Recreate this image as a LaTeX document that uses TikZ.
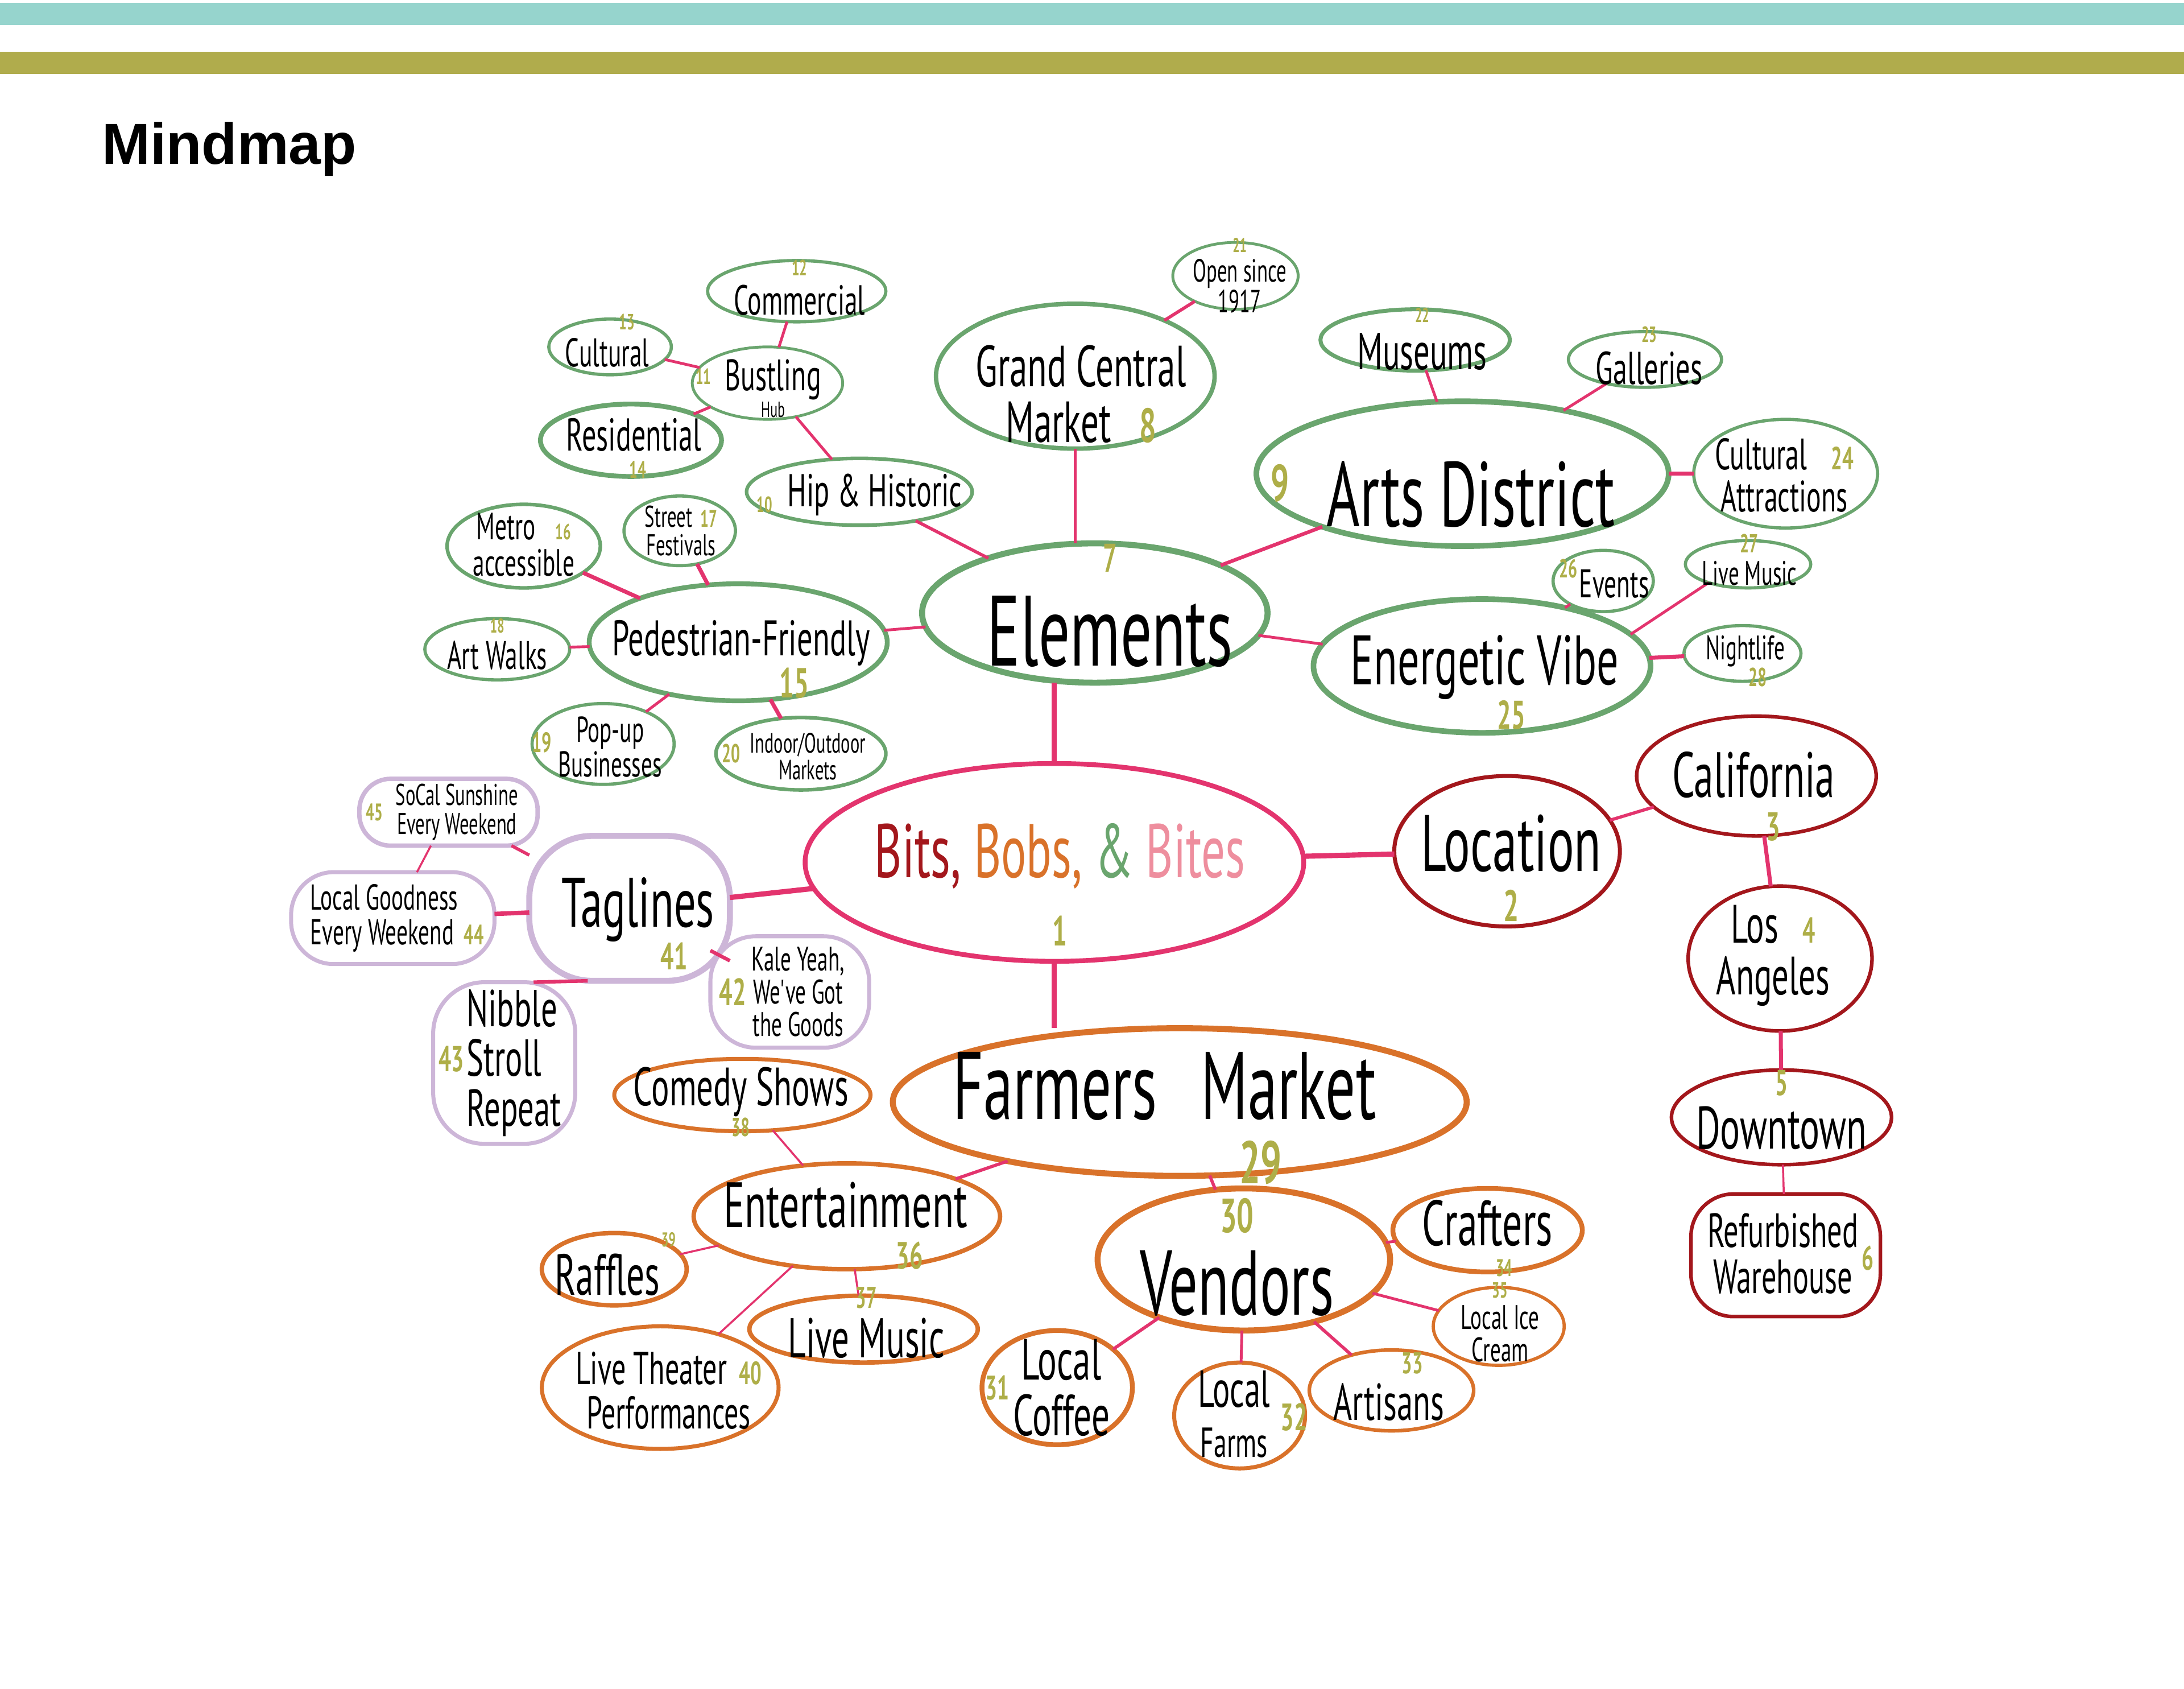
\documentclass[tikz,border=0pt]{standalone}
\usepackage{fontspec}
\setmainfont{Liberation Sans}
\newfontfamily\hand{PT Sans}[FakeStretch=0.62]
\usetikzlibrary{shapes.geometric}
\definecolor{lnk}{HTML}{E3346E}
\definecolor{grn}{HTML}{6AA56E}
\definecolor{dred}{HTML}{A3171C}
\definecolor{orn}{HTML}{D9722A}
\definecolor{lav}{HTML}{CDB6D8}
\definecolor{olv}{HTML}{AEAE48}
\definecolor{tealbar}{HTML}{96D4CD}
\definecolor{olvbar}{HTML}{B0AC4C}
\definecolor{bpink}{HTML}{EE8E9E}
\newcommand\nm[2]{{\hand\bfseries\fontsize{#1}{#1}\selectfont\textcolor{olv}{#2}}}
\tikzset{
  sz/.style 2 args={minimum width={#1*0.04898cm}, minimum height={#2*0.04898cm}},
  box/.style={ellipse, inner sep=0pt, outer sep=0pt, fill=white},
  rbox/.style={rectangle, rounded corners=#1, inner sep=0pt, outer sep=0pt, fill=white},
  gb/.style={box, draw=grn, line width=#1},
  rb/.style={box, draw=dred, line width=#1},
  ob/.style={box, draw=orn, line width=#1},
  fs/.style={font=\hand\fontsize{#1}{\fpeval{0.96*#1}}\selectfont, text=black, align=center, inner sep=0pt},
  fb/.style={fs=#1, anchor=base},
  num/.style={font=\hand\bfseries\fontsize{#1}{#1}\selectfont, text=olv, inner sep=0pt},
  con/.style={draw=lnk, line width=#1},
}
\begin{document}
\begin{tikzpicture}[x=0.02449cm,y=-0.02449cm]
\useasboundingbox (0,0) rectangle (1568,1212);
\fill[tealbar] (0,2) rectangle (1568,18);
\fill[olvbar] (0,37) rectangle (1568,53);
\node[font=\bfseries\fontsize{29}{29}\selectfont, anchor=base west, inner sep=0pt] (title) at (73,118) {Mindmap};

% nodes
\node[box, draw=lnk, line width=2.4pt, sz={179}{71}] (c) at (757,619) {};
\node[rb=2pt, sz={81}{54}] (loc) at (1082,611) {};
\node[rb=1.8pt, sz={86}{43}] (cal) at (1261,557) {};
\node[rb=1.8pt, sz={66}{52}] (la) at (1278,688) {};
\node[rb=1.8pt, sz={79}{34}] (dt) at (1279,802) {};
\node[rbox=0.75cm, draw=dred, line width=1.8pt, sz={68}{44}] (ref) at (1282,901) {};

\node[gb=3pt, sz={124}{50}] (el) at (786,440) {};
\node[gb=2.2pt, sz={100}{52}] (gcm) at (772,270) {};
\node[gb=1.4pt, sz={45}{24}] (open) at (887,198) {};
\node[gb=2.8pt, sz={148}{52}] (arts) at (1050,340) {};
\node[gb=2pt, sz={68}{22}] (mus) at (1016,244) {};
\node[gb=1.6pt, sz={55}{20}] (gal) at (1181,258) {};
\node[gb=1.6pt, sz={66}{39}] (cua) at (1282,340) {};
\node[gb=2.8pt, sz={121}{48}] (ev) at (1064,478) {};
\node[gb=1.6pt, sz={36}{22}] (evt) at (1151,417) {};
\node[gb=1.6pt, sz={45}{17}] (lmA) at (1255,405) {};
\node[gb=1.6pt, sz={42}{20}] (nl) at (1251,469) {};
\node[gb=1.8pt, sz={81}{24}] (hip) at (617,353) {};
\node[gb=1.4pt, sz={54}{26}] (bus) at (551,275) {};
\node[gb=1.6pt, sz={64}{22}] (com) at (572,209) {};
\node[gb=1.6pt, sz={44}{20}] (cul) at (438,249) {};
\node[gb=2.4pt, sz={65}{26}] (res) at (453,316) {};
\node[gb=2.4pt, sz={107}{42}] (ped) at (530,461) {};
\node[gb=1.8pt, sz={55}{30}] (met) at (376,392) {};
\node[gb=1.6pt, sz={40}{25}] (sf) at (488,381) {};
\node[gb=1.6pt, sz={52}{22}] (aw) at (357,466) {};
\node[gb=1.6pt, sz={51}{29}] (pop) at (433,534) {};
\node[gb=1.8pt, sz={61}{26}] (ind) at (575,541) {};

\node[rbox=1.1cm, draw=lav, line width=3pt, sz={72}{52}] (tag) at (452,652) {};
\node[rbox=0.8cm, draw=lav, line width=2pt, sz={57}{40}] (kale) at (567,712) {};
\node[rbox=0.9cm, draw=lav, line width=2pt, sz={51}{58}] (nib) at (362,763) {};
\node[rbox=0.75cm, draw=lav, line width=2pt, sz={73}{33}] (lg) at (282,659) {};
\node[rbox=0.55cm, draw=lav, line width=2.2pt, sz={64}{24}] (soc) at (322,583) {};

\node[ob=3pt, sz={206}{53}] (fm) at (847,791) {};
\node[ob=2.2pt, sz={110}{38}] (ent) at (608,873) {};
\node[ob=2pt, sz={92}{26}] (cs) at (533,786) {};
\node[ob=2.2pt, sz={52}{26}] (raf) at (441,911) {};
\node[ob=2.2pt, sz={82}{24}] (lmB) at (620,954) {};
\node[ob=2pt, sz={85}{44}] (lt) at (474,996) {};
\node[ob=3pt, sz={105}{51}] (ven) at (893,904) {};
\node[ob=2.4pt, sz={68}{30}] (cra) at (1068,883) {};
\node[ob=1.6pt, sz={47}{28}] (ice) at (1076,952) {};
\node[ob=1.8pt, sz={59}{29}] (art) at (999,998) {};
\node[ob=2pt, sz={47}{38}] (far) at (890,1016) {};
\node[ob=2.4pt, sz={54}{41}] (cof) at (759,996) {};

% connectors
\draw[con=2.6pt] (c.north) -- (c.north |- el.south);
\draw[con=2.6pt] (c.south) -- (c.south |- fm.north);
\draw[con=2.6pt] (c) -- (loc);
\draw[con=2.6pt] (c) -- (tag);
\draw[con=1.6pt] (loc) -- (cal);
\draw[con=2pt] (cal) -- (la);
\draw[con=2pt] (la) -- (dt);
\draw[con=1pt] (dt) -- (ref);
\draw[con=1.6pt] (el.north -| gcm.south) -- (gcm.south);
\draw[con=1.8pt] (el) -- (arts);
\draw[con=1.4pt] (el) -- (ev);
\draw[con=1.4pt] (el) -- (ped);
\draw[con=1.6pt] (el) -- (hip);
\draw[con=1.6pt] (gcm) -- (open);
\draw[con=1.4pt] (arts) -- (mus);
\draw[con=1.4pt] (arts) -- (gal);
\draw[con=2pt] (arts) -- (cua);
\draw[con=1.4pt] (ev) -- (evt);
\draw[con=1.4pt] (ev.12) -- (lmA.205);
\draw[con=2pt] (ev) -- (nl);
\draw[con=1.4pt] (hip) -- (bus);
\draw[con=1.4pt] (bus) -- (com);
\draw[con=1.4pt] (bus) -- (cul);
\draw[con=1.4pt] (bus) -- (res);
\draw[con=2pt] (ped) -- (met);
\draw[con=2pt] (ped) -- (sf);
\draw[con=1.4pt] (ped) -- (aw);
\draw[con=1.4pt] (ped) -- (pop);
\draw[con=2pt] (ped) -- (ind);
\draw[con=1.8pt] (tag) -- (kale);
\draw[con=1.8pt] (tag.240) -- (nib.70);
\draw[con=2.2pt] (tag) -- (lg);
\draw[con=1.6pt] (tag) -- (soc);
\draw[con=1pt] (soc) -- (lg);
\draw[con=1.6pt] (fm) -- (ent);
\draw[con=1.6pt] (fm) -- (ven);
\draw[con=1pt] (ent) -- (cs);
\draw[con=1pt] (ent) -- (raf);
\draw[con=1pt] (ent) -- (lmB);
\draw[con=1pt] (ent) -- (lt);
\draw[con=1.4pt] (ven) -- (cra);
\draw[con=1.4pt] (ven) -- (ice);
\draw[con=1.6pt] (ven) -- (art);
\draw[con=1.4pt] (ven) -- (far);
\draw[con=1.6pt] (ven) -- (cof);

% texts (numbers that sit above/below a text are set in the same text block)
\node[fb=38] (ct) at (761,678.9) {\textcolor{dred}{Bits,} \textcolor{orn}{Bobs,} \textcolor{grn}{\&} \textcolor{bpink}{Bites}\\[-2.2pt]\nm{21}{1}\hspace{8.4pt}};
\node[fb=40] (tloc) at (1085,661.4) {Location\\[-13.4pt]\nm{22}{2}\hspace{9.8pt}};
\node[fb=32] (tcal) at (1259,603.3) {California\\[-9.1pt]\hspace{19.5pt}\nm{20}{3}};
\node[fs=27] (tla) at (1273,686) {Los\hspace{12pt}\nm{18}{4}\\Angeles};
\node[fb=30] (tdt) at (1279,824.5) {\nm{18}{5}\hspace{22.3pt}\\[-2.1pt]Downtown};
\node[fs=24] (tref) at (1280,900) {Refurbished\\Warehouse};
\node[num=17] (n6) at (1341,903) {6};

\node[fb=50] (tel) at (797,477.9) {\nm{20}{7}\hspace{15.3pt}\\[-1pt]Elements};
\node[fs=29] (tgcm) at (776,283) {Grand Central\\Market\hspace{14pt}\nm{24}{8}};
\node[fb=16] (topen) at (890,224.5) {\nm{10}{21}\hspace{12.5pt}\\[-0.6pt]Open since\\1917};
\node[fs=46] (tarts) at (1056,355) {Arts District};
\node[num=26] (n9) at (919,347) {9};
\node[fb=26] (tmus) at (1021,265.4) {\nm{10}{22}\hspace{9.8pt}\\[-1.1pt]Museums};
\node[fb=23] (tgal) at (1184,275.9) {\nm{11}{23}\hspace{8.4pt}\\[-1.1pt]Galleries};
\node[fs=22] (tcua) at (1281,341) {Cultural\hspace{12pt}\nm{16}{24}\\Attractions};
\node[fb=35] (tev) at (1066,523.3) {Energetic Vibe\\[-11.5pt]\hspace{26.5pt}\nm{20}{25}};
\node[fs=20] (tevt) at (1159,419) {Events};
\node[num=13] (n26) at (1126,408) {26};
\node[fb=17] (tlmA) at (1256,419.8) {\nm{13}{27}\hspace{11.1pt}\\[-0.3pt]Live Music};
\node[fb=17] (tnl) at (1253,492.7) {Nightlife\\[-3pt]\hspace{12.5pt}\nm{13}{28}};
\node[fs=23] (thip) at (628,355) {Hip \& Historic};
\node[num=11] (n10) at (549,362) {10};
\node[fb=22] (tbus) at (555,299.7) {Bustling\\[-7.7pt]{\fontsize{11}{11}\selectfont Hub}\hspace{8.4pt}};
\node[num=11] (n11) at (505,270) {11};
\node[fb=21] (tcom) at (574,225.9) {\nm{11}{12}\hspace{26.5pt}\\[-0.6pt]Commercial};
\node[fb=20] (tcul) at (436,263.3) {\hspace{19.5pt}\nm{11}{13}\\[-0.7pt]Cultural};
\node[fb=23] (tres) at (455,343.2) {Residential\\[-8.3pt]\hspace{4.2pt}\nm{12}{14}};
\node[fb=25] (tped) at (532,500.9) {Pedestrian-Friendly\\[-3pt]\hspace{53pt}\nm{21}{15}};
\node[fs=19] (tmet) at (376,391) {Metro\hspace{10pt}\nm{11}{16}\\accessible};
\node[fs=15] (tsf) at (489,381) {Street\hspace{4pt}\nm{12}{17}\\Festivals};
\node[fb=20] (taw) at (357,480.3) {\nm{10}{18}\hspace{12.5pt}\\[-1pt]Art Walks};
\node[fs=18] (tpop) at (438,536) {Pop-up\\Businesses};
\node[num=14] (n19) at (389,533) {19};
\node[fs=14] (tind) at (580,543) {Indoor/Outdoor\\Markets};
\node[num=13] (n20) at (525,541) {20};

\node[fb=35] (ttag) at (458,695.8) {Taglines\\[-12.3pt]\hspace{36.2pt}\nm{19}{41}};
\node[fs=17] (tkale) at (573,712) {Kale Yeah,\\We've Got\\the Goods};
\node[num=19] (n42) at (526,712) {42};
\node[fs=26, align=left] (tnib) at (369,763) {Nibble\\Stroll\\Repeat};
\node[num=18] (n43) at (324,760) {43};
\node[fs=18, align=left] (tlg) at (285,659) {Local Goodness\\Every Weekend\hspace{5pt}\nm{14}{44}};
\node[fs=15] (tsoc) at (328,583) {SoCal Sunshine\\Every Weekend};
\node[num=12] (n45) at (269,583) {45};

\node[fb=48] (tfm) at (836,849.5) {Farmers\hspace{22pt}Market\\[-13.9pt]\hspace{96pt}\nm{30}{29}};
\node[fb=32] (tent) at (607,910.8) {Entertainment\\[-10pt]\hspace{64pt}\nm{19}{36}};
\node[fb=27] (tcs) at (532,815.7) {Comedy Shows\\[-10.6pt]\nm{13}{38}\hspace{54.4pt}};
\node[fs=29] (traf) at (436,915) {Raffles};
\node[num=10] (n39) at (480,890) {39};
\node[fb=28] (tlmB) at (622,974.5) {\nm{15}{37}\hspace{22.3pt}\\[-2pt]Live Music};
\node[fs=23] (tlt) at (480,998) {Live Theater\hspace{6pt}\nm{16}{40}\\Performances};
\node[fb=46] (tven) at (888,943.8) {\nm{24}{30}\hspace{16.7pt}\\[-2.9pt]Vendors};
\node[fb=32] (tcra) at (1068,916.2) {Crafters\\[-15.2pt]\hspace{16.7pt}\nm{12}{34}};
\node[fb=17] (tice) at (1077,977.3) {\nm{11}{35}\hspace{26.5pt}\\[-0.9pt]Local Ice\\Cream};
\node[fb=26] (tart) at (997,1019.4) {\hspace{23.7pt}\nm{15}{33}\\[-1.5pt]Artisans};
\node[fs=26] (tfar) at (886,1015) {Local\\{\fontsize{21}{21}\selectfont Farms}};
\node[num=19] (n32) at (929,1017) {32};
\node[fs=29] (tcof) at (762,996) {Local\\Coffee};
\node[num=17] (n31) at (716,996) {31};
\end{tikzpicture}
\end{document}
